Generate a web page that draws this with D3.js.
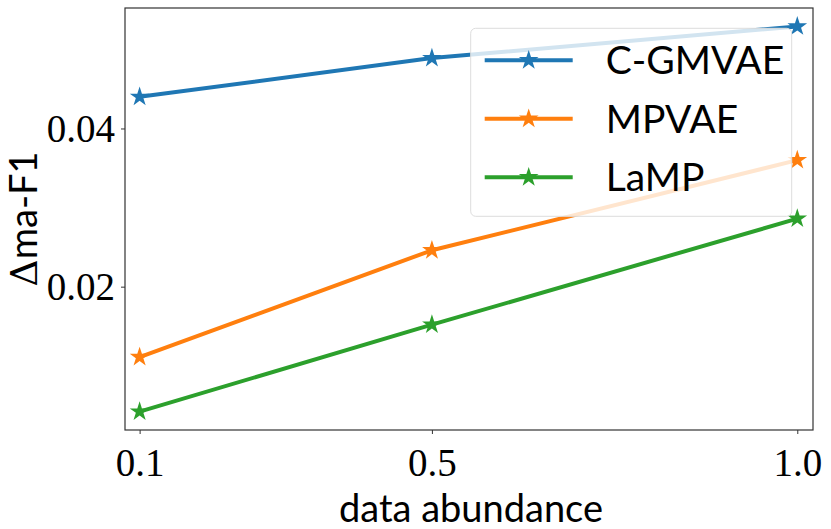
<!DOCTYPE html>
<html>
<head>
<meta charset="utf-8">
<script src="https://cdn.jsdelivr.net/npm/d3@7"></script>
<style>
  body { margin: 0; background: #fff; }
  svg { display: block; }
</style>
</head>
<body>
<div id="graph-container"></div>
<script>
// Data
const abundance = [0.1, 0.5, 1.0];
const seriesNames = ["C-GMVAE", "MPVAE", "LaMP"];
const cgmvae = [0.0440, 0.0489, 0.0529];
const mpvae = [0.0111, 0.0246, 0.0360];
const lamp = [0.0042, 0.0152, 0.0286];
const xTicks = [0.1, 0.5, 1.0];
const yTicks = [0.02, 0.04];
const colors = ["#1f77b4", "#ff7f0e", "#2ca02c"];

const series = [cgmvae, mpvae, lamp].map((vals, i) => ({
    name: seriesNames[i],
    color: colors[i],
    points: vals.map((v, j) => ({ x: abundance[j], y: v }))
}));

// Chart dimensions and margins
const W = 831, H = 529;
const margin = { top: 8, right: 18, bottom: 99, left: 125 };
const width = W - margin.left - margin.right;
const height = H - margin.top - margin.bottom;

const x = d3.scaleLinear()
    .domain([0.08, 1.0215])
    .range([0, width]);

const y = d3.scaleLinear()
    .domain([0.00188, 0.05523])
    .range([height, 0]);

const svg = d3.select("#graph-container")
    .append("svg")
        .attr("width", W)
        .attr("height", H)
    .append("g")
        .attr("transform", `translate(${margin.left},${margin.top})`);

// Axes
const xAxis = svg.append("g")
    .attr("transform", `translate(0,${height})`)
    .call(d3.axisBottom(x).tickValues(xTicks).tickFormat(d3.format(".1f")).tickSize(4).tickPadding(14));

const yAxis = svg.append("g")
    .call(d3.axisLeft(y).tickValues(yTicks).tickFormat(d3.format(".2f")).tickSize(4).tickPadding(6));

[xAxis, yAxis].forEach(a => {
    a.select(".domain").remove();
    a.selectAll(".tick line").attr("stroke", "#333").attr("stroke-width", 1);
    a.selectAll(".tick text")
        .attr("fill", "#000")
        .style("font-family", "'Liberation Serif', 'DejaVu Serif', serif")
        .style("font-size", "39px");
});
yAxis.selectAll(".tick text").attr("dy", "0.34em");

// Lines and star markers
const line = d3.line()
    .x(d => x(d.x))
    .y(d => y(d.y));

const star = d3.symbol().type(d3.symbolStar).size(120);

series.forEach(s => {
    svg.append("path")
        .datum(s.points)
        .attr("fill", "none")
        .attr("stroke", s.color)
        .attr("stroke-width", 4)
        .attr("stroke-linejoin", "round")
        .attr("d", line);

    svg.selectAll(null)
        .data(s.points)
        .join("path")
        .attr("transform", d => `translate(${x(d.x)},${y(d.y)})`)
        .attr("d", star)
        .attr("fill", s.color);
});

// Frame
svg.append("rect")
    .attr("width", width)
    .attr("height", height)
    .attr("fill", "none")
    .attr("stroke", "#333")
    .attr("stroke-width", 1.2);

// Legend
const legend = svg.append("g")
    .attr("transform", `translate(${470.7 - margin.left},${28.3 - margin.top})`);

legend.append("rect")
    .attr("width", 321)
    .attr("height", 188)
    .attr("rx", 5)
    .attr("fill", "#fff")
    .attr("fill-opacity", 0.8)
    .attr("stroke", "#ddd")
    .attr("stroke-width", 1);

series.forEach((s, i) => {
    const row = legend.append("g")
        .attr("transform", `translate(0,${32 + i * 58.5})`);
    row.append("line")
        .attr("x1", 14).attr("x2", 102)
        .attr("stroke", s.color)
        .attr("stroke-width", 4);
    row.append("path")
        .attr("transform", "translate(58,0)")
        .attr("d", star)
        .attr("fill", s.color);
    row.append("text")
        .attr("x", 135)
        .attr("dy", "0.36em")
        .style("font-family", "Lato, sans-serif")
        .style("font-size", "39px")
        .text(s.name);
});

// Axis labels
svg.append("text")
    .attr("x", width / 2 + (471 - margin.left - width / 2))
    .attr("y", 521.7 - margin.top)
    .attr("text-anchor", "middle")
    .style("font-family", "Lato, sans-serif")
    .style("font-size", "38px")
    .text("data abundance");

const yLabel = svg.append("text")
    .attr("transform", `translate(${37 - margin.left},${219 - margin.top}) rotate(-90)`)
    .attr("text-anchor", "middle")
    .style("font-family", "Lato, sans-serif")
    .style("font-size", "38px");
yLabel.append("tspan")
    .style("font-family", "'DejaVu Serif', serif")
    .text("Δ");
yLabel.append("tspan").text("ma-F1");
</script>
</body>
</html>
